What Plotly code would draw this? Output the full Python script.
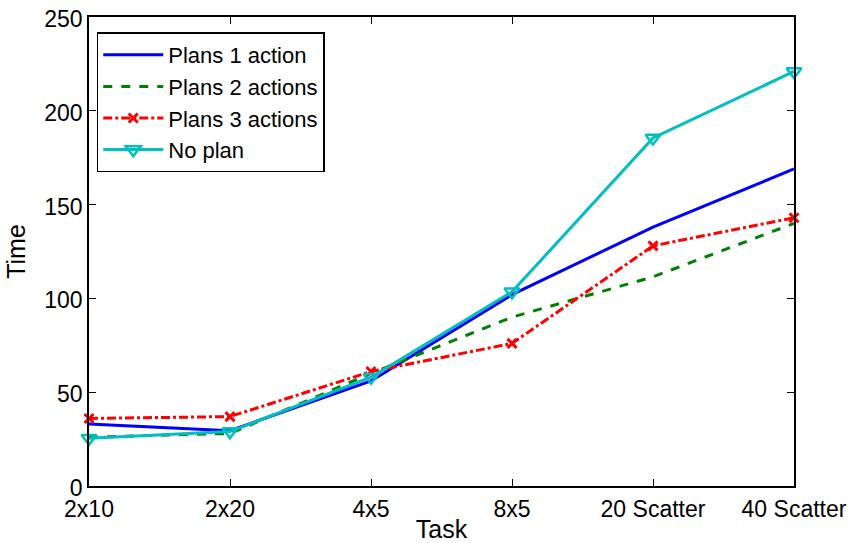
import plotly.graph_objects as go

tasks = ["2x10", "2x20", "4x5", "8x5", "20 Scatter", "40 Scatter"]
plans1 = [33, 29.5, 56, 102, 138, 169]
plans2 = [26, 28, 60, 90, 111.5, 140]
plans3 = [36, 37, 61, 76, 128, 143]
noplan = [25.5, 29, 58, 103.5, 185.5, 221]
y_ticks = [0, 50, 100, 150, 200, 250]

fig = go.Figure()
fig.add_trace(go.Scatter(x=tasks, y=plans1, name="Plans 1 action", mode="lines",
                         line=dict(color="#0000ff", width=3), cliponaxis=False))
fig.add_trace(go.Scatter(x=tasks, y=plans2, name="Plans 2 actions", mode="lines",
                         line=dict(color="#008000", width=3, dash="dash"), cliponaxis=False))
fig.add_trace(go.Scatter(x=tasks, y=plans3, name="Plans 3 actions", mode="lines+markers",
                         line=dict(color="#ff0000", width=3, dash="dashdot"),
                         marker=dict(symbol="x-thin-open", size=9, line=dict(color="#ff0000", width=3)),
                         cliponaxis=False))
fig.add_trace(go.Scatter(x=tasks, y=noplan, name="No plan", mode="lines+markers",
                         line=dict(color="#00bfbf", width=3),
                         marker=dict(symbol="triangle-down-open", size=13, line=dict(color="#00bfbf", width=2.5)),
                         cliponaxis=False))

font = dict(family="Liberation Sans, Arial, sans-serif", size=23, color="black")
title_font = dict(family="Liberation Sans, Arial, sans-serif", size=25, color="black")
legend_font = dict(family="Liberation Sans, Arial, sans-serif", size=22, color="black")
fig.update_layout(
    width=851, height=543,
    margin=dict(l=89, r=57, t=17, b=57, autoexpand=False),
    paper_bgcolor="white", plot_bgcolor="white",
    font=font,
    showlegend=True,
    legend=dict(x=0.011, y=0.967, xanchor="left", yanchor="top",
                bordercolor="black", borderwidth=1.5, bgcolor="white",
                font=legend_font, tracegroupgap=0, itemwidth=60),
)
fig.update_xaxes(type="category", range=[0, 5], showline=True, mirror="ticks",
                 linecolor="black", linewidth=1.5, ticks="inside", ticklen=7,
                 tickcolor="black", showgrid=False, zeroline=False, automargin=False,
                 ticklabelstandoff=2,
                 title=dict(text="Task", standoff=0, font=title_font), tickfont=font)
fig.update_yaxes(range=[0, 250], tickvals=y_ticks, showline=True, mirror="ticks",
                 linecolor="black", linewidth=1.5, ticks="inside", ticklen=7,
                 tickcolor="black", showgrid=False, zeroline=False, automargin=False,
                 ticklabelshift=2,
                 title=dict(text="Time", standoff=12, font=title_font), tickfont=font)

fig.write_html("out.html")
